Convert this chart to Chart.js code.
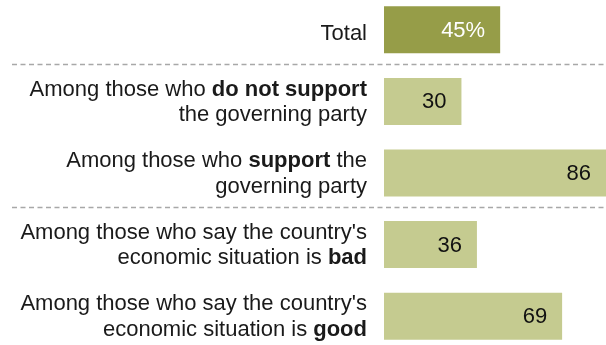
<!DOCTYPE html>
<html>
<head>
<meta charset="utf-8">
<script src="https://cdn.jsdelivr.net/npm/chart.js@4"></script>
<style>
  html, body { margin: 0; padding: 0; background: #fff; }
  #wrap { position: relative; width: 606px; height: 345px; overflow: hidden; }
  #box { position: absolute; left: 0; top: -6px; width: 606px; height: 358px; }
</style>
</head>
<body>
<div id="wrap"><div id="box"><canvas id="chart"></canvas></div></div>
<script>
// categories: "\n" = line break, **text** = bold
const categories = [
  'Total',
  'Among those who **do not support**\nthe governing party',
  'Among those who **support** the\ngoverning party',
  "Among those who say the country's\neconomic situation is **bad**",
  "Among those who say the country's\neconomic situation is **good**"
];
const values = [45, 30, 86, 36, 69];
const valueSuffixes = ['%', '', '', '', ''];
const barColors = ['#969d48', '#c5cb90', '#c5cb90', '#c5cb90', '#c5cb90'];
const valueColors = ['#ffffff', '#111111', '#111111', '#111111', '#111111'];
// separators drawn after these category indexes
const separatorsAfter = [0, 2];

const FONT = '"Liberation Sans", Arial, sans-serif';

// 라벨 파싱: **bold** 구간 나누기
const parseLine = (line) => {
  const parts = line.split('**');
  return parts.map((t, i) => ({ text: t, bold: i % 2 === 1 })).filter(p => p.text.length);
};

const labelPlugin = {
  id: 'labelPlugin',
  afterDatasetsDraw(chart) {
    const ctx = chart.ctx;
    const meta = chart.getDatasetMeta(0);
    const area = chart.chartArea;
    const yScale = chart.scales.y;

    // dashed separators
    ctx.save();
    ctx.strokeStyle = '#a8a8a8';
    ctx.lineWidth = 1.5;
    ctx.setLineDash([5, 3.5]);
    separatorsAfter.forEach(i => {
      const y = Math.round((yScale.getPixelForValue(i) + yScale.getPixelForValue(i + 1)) / 2 - 2) + 0.5;
      ctx.beginPath();
      ctx.moveTo(12, y);
      ctx.lineTo(chart.width, y);
      ctx.stroke();
    });
    ctx.restore();

    // values inside bars
    ctx.save();
    ctx.font = '22px ' + FONT;
    ctx.textAlign = 'right';
    ctx.textBaseline = 'middle';
    meta.data.forEach((bar, i) => {
      ctx.fillStyle = valueColors[i];
      ctx.fillText(values[i] + valueSuffixes[i], bar.x - 15, bar.y + 1);
    });
    ctx.restore();

    // category labels, right aligned left of bars
    ctx.save();
    ctx.fillStyle = '#1a1a1a';
    ctx.textBaseline = 'alphabetic';
    const right = area.left - 17;
    const lineH = 25.5;
    categories.forEach((cat, i) => {
      const lines = cat.split('\n');
      const cy = yScale.getPixelForValue(i);
      lines.forEach((line, k) => {
        const parts = parseLine(line);
        const widths = parts.map(p => {
          ctx.font = (p.bold ? 'bold ' : '') + '22px ' + FONT;
          return ctx.measureText(p.text).width;
        });
        let x = right - widths.reduce((a, b) => a + b, 0);
        const y = cy + 10.5 + (k - (lines.length - 1) / 2) * lineH - (lines.length - 1) * 3.5;
        parts.forEach((p, j) => {
          ctx.font = (p.bold ? 'bold ' : '') + '22px ' + FONT;
          ctx.textAlign = 'left';
          ctx.fillText(p.text, x, y);
          x += widths[j];
        });
      });
    });
    ctx.restore();
  }
};

new Chart(document.getElementById('chart'), {
  type: 'bar',
  data: {
    labels: categories,
    datasets: [{
      data: values,
      backgroundColor: barColors,
      borderWidth: 0,
      barPercentage: 0.656,
      categoryPercentage: 1
    }]
  },
  options: {
    indexAxis: 'y',
    responsive: true,
    maintainAspectRatio: false,
    animation: false,
    layout: { padding: { left: 384, right: 0, top: 0, bottom: 0 } },
    scales: {
      x: { display: false, min: 0, max: 86 },
      y: { display: false }
    },
    plugins: {
      legend: { display: false },
      tooltip: { enabled: false }
    }
  },
  plugins: [labelPlugin]
});
</script>
</body>
</html>
